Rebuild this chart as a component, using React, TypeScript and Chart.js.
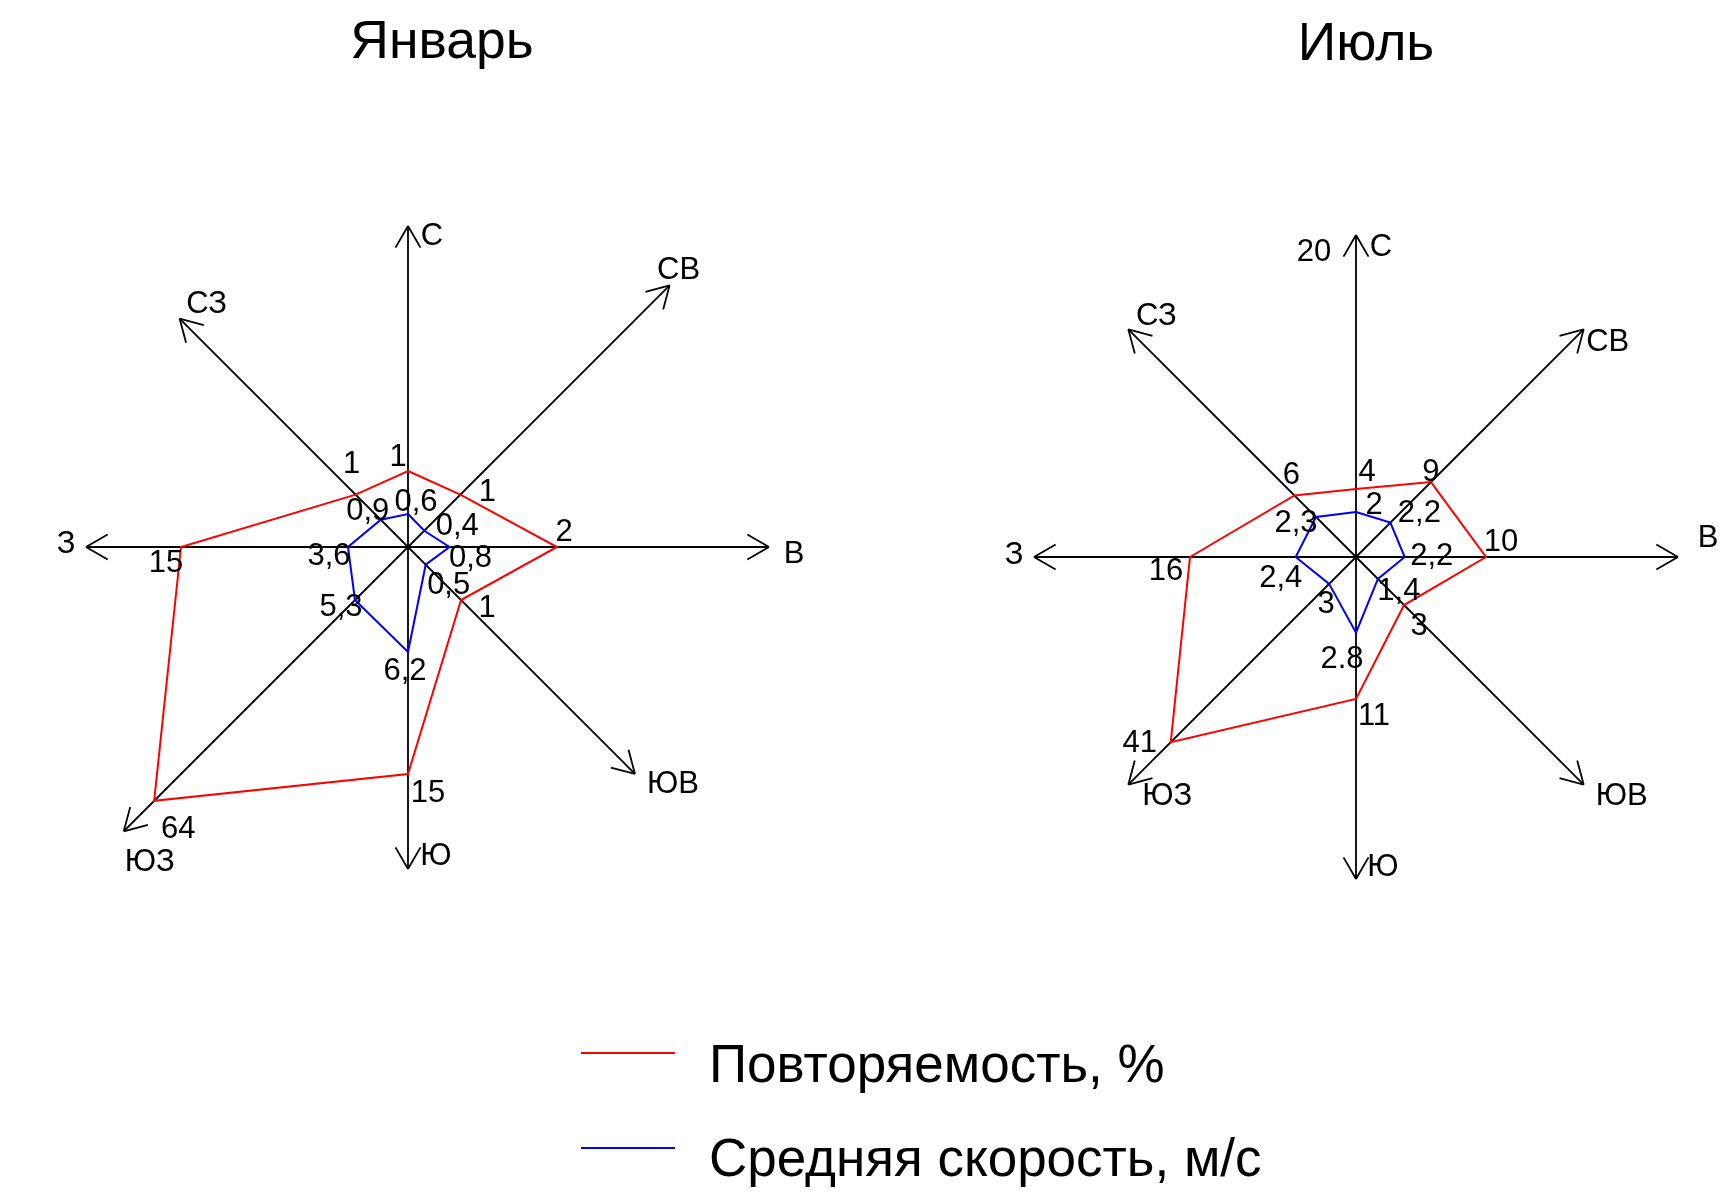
import React, { useEffect, useRef } from 'react';
import { Chart, registerables } from 'chart.js';

Chart.register(...registerables);

// ---------- data ----------
const directions = ['С', 'СВ', 'В', 'ЮВ', 'Ю', 'ЮЗ', 'З', 'СЗ'];

// January: printed values and the radial position each vertex has in the original drawing
// (the original rose is not drawn to scale, so positions are read from the picture)
const janFreqLabels = ['1', '1', '2', '1', '15', '64', '15', '1'];
const janFreqDrawn = [76, 74, 149, 75, 227, 359, 227, 74];
const janSpeedLabels = ['0,6', '0,4', '0,8', '0,5', '6,2', '5,3', '3,6', '0,9'];
const janSpeedDrawn = [33, 23, 41.5, 25, 105, 75, 60, 38.5];
const janAxisLength = [321, 370, 361, 321, 322, 402, 322, 323];

// July
const julFreqLabels = ['4', '9', '10', '3', '11', '41', '16', '6'];
const julFreqDrawn = [68, 106, 130, 68, 142, 262, 166, 87];
const julSpeedLabels = ['2', '2,2', '2,2', '1,4', '2.8', '3', '2,4', '2,3'];
const julSpeedDrawn = [45, 48.6, 48.7, 31, 75.7, 38, 60.3, 56.6];
const julAxisLength = [322, 322, 322, 322, 322, 322, 322, 322];
const julAxisExtraLabel = '20';

const seriesNames = ['Повторяемость, %', 'Средняя скорость, м/с'];
const titles = ['Январь', 'Июль'];

// ---------- layout / styles ----------
const FONT = '"Liberation Sans", Arial, Helvetica, sans-serif';
const RED = '#ff0000';
const BLUE = '#0000ff';

type Off = [number, number];

interface RoseSpec {
  id: string;
  width: number;
  height: number;
  left: number;
  rMax: number;
  freqDrawn: number[];
  freqLabels: string[];
  speedDrawn: number[];
  speedLabels: string[];
  axisLength: number[];
  freqOff: Off[];
  speedOff: Off[];
  dirOff: Off[];
  extra?: { text: string; off: Off };
}

const janSpec: RoseSpec = {
  id: 'jan',
  width: 800,
  height: 1094,
  left: 8,
  rMax: 400,
  freqDrawn: janFreqDrawn,
  freqLabels: janFreqLabels,
  speedDrawn: janSpeedDrawn,
  speedLabels: janSpeedLabels,
  axisLength: janAxisLength,
  freqOff: [[-10, -14], [27, -2], [7, -15], [26, 8], [20, 19], [24, 29], [-15, 16], [-4, -30]],
  speedOff: [[8, -12], [33, -4], [21, 11], [23, 21], [-3, 19], [-14, 7], [-19, 9], [-13, -8]],
  dirOff: [[24, 10], [9, -15], [25, 7], [38, 10], [28, -13], [26, 31], [-20, -3], [27, -14]],
};

const julSpec: RoseSpec = {
  id: 'jul',
  width: 748,
  height: 1114,
  left: 982,
  rMax: 374,
  freqDrawn: julFreqDrawn,
  freqLabels: julFreqLabels,
  speedDrawn: julSpeedDrawn,
  speedLabels: julSpeedLabels,
  axisLength: julAxisLength,
  freqOff: [[11, -17], [0, -10], [15, -15], [15, 21], [18, 17], [-31, 1], [-24, 14], [-3, -20]],
  speedOff: [[18, -7], [29, -9], [27, -1], [21, 13], [-14, 27], [-3, 21], [-15, 21], [-20, 6]],
  dirOff: [[25, 12], [24, 13], [30, -19], [38, 12], [27, -12], [39, 12], [-20, -2], [28, -13]],
  extra: { text: julAxisExtraLabel, off: [-42, 17] },
};

function rosePlugin(spec: RoseSpec) {
  return {
    id: 'rose_' + spec.id,
    beforeDatasetsDraw(chart: any) {
      const scale = chart.scales.r;
      const ctx = chart.ctx as CanvasRenderingContext2D;
      const cx = scale.xCenter;
      const cy = scale.yCenter;
      ctx.save();
      ctx.strokeStyle = '#000';
      ctx.lineWidth = 1.8;
      spec.axisLength.forEach((len, i) => {
        const tip = scale.getPointPosition(i, scale.getDistanceFromCenterForValue(len));
        ctx.beginPath();
        ctx.moveTo(cx, cy);
        ctx.lineTo(tip.x, tip.y);
        ctx.stroke();
        const ang = Math.atan2(tip.y - cy, tip.x - cx);
        ctx.beginPath();
        for (const s of [-1, 1]) {
          const a = ang + Math.PI + (s * Math.PI) / 6;
          ctx.moveTo(tip.x, tip.y);
          ctx.lineTo(tip.x + 25 * Math.cos(a), tip.y + 25 * Math.sin(a));
        }
        ctx.stroke();
      });
      ctx.restore();
    },
    afterDatasetsDraw(chart: any) {
      const scale = chart.scales.r;
      const ctx = chart.ctx as CanvasRenderingContext2D;
      ctx.save();
      ctx.fillStyle = '#000';
      ctx.font = `31px ${FONT}`;
      ctx.textAlign = 'center';
      ctx.textBaseline = 'middle';
      const freqMeta = chart.getDatasetMeta(0);
      const speedMeta = chart.getDatasetMeta(1);
      spec.freqLabels.forEach((t, i) => {
        const p = freqMeta.data[i];
        ctx.fillText(t, p.x + spec.freqOff[i][0], p.y + spec.freqOff[i][1]);
      });
      spec.speedLabels.forEach((t, i) => {
        const p = speedMeta.data[i];
        ctx.fillText(t, p.x + spec.speedOff[i][0], p.y + spec.speedOff[i][1]);
      });
      directions.forEach((d, i) => {
        const tip = scale.getPointPosition(i, scale.getDistanceFromCenterForValue(spec.axisLength[i]));
        ctx.fillText(d, tip.x + spec.dirOff[i][0], tip.y + spec.dirOff[i][1]);
      });
      if (spec.extra) {
        const tip = scale.getPointPosition(0, scale.getDistanceFromCenterForValue(spec.axisLength[0]));
        ctx.fillText(spec.extra.text, tip.x + spec.extra.off[0], tip.y + spec.extra.off[1]);
      }
      ctx.restore();
    },
  };
}

function Rose({ spec }: { spec: RoseSpec }) {
  const ref = useRef<HTMLCanvasElement | null>(null);
  useEffect(() => {
    if (!ref.current) return;
    const chart = new Chart(ref.current, {
      type: 'radar',
      data: {
        labels: directions,
        datasets: [
          {
            label: seriesNames[0],
            data: spec.freqDrawn,
            borderColor: RED,
            backgroundColor: 'transparent',
            borderWidth: 2,
            pointRadius: 0,
            pointHoverRadius: 0,
            fill: false,
            tension: 0,
          },
          {
            label: seriesNames[1],
            data: spec.speedDrawn,
            borderColor: BLUE,
            backgroundColor: 'transparent',
            borderWidth: 2,
            pointRadius: 0,
            pointHoverRadius: 0,
            fill: false,
            tension: 0,
          },
        ],
      },
      options: {
        responsive: false,
        animation: false,
        events: [],
        layout: { padding: 0 },
        plugins: {
          legend: { display: false },
          tooltip: { enabled: false },
          title: { display: false },
        },
        scales: {
          r: {
            min: 0,
            max: spec.rMax,
            grid: { display: false },
            angleLines: { display: false },
            ticks: { display: false },
            pointLabels: { display: false },
          },
        },
      },
      plugins: [rosePlugin(spec)],
    } as any);
    return () => chart.destroy();
  }, [spec]);
  return (
    <canvas
      ref={ref}
      width={spec.width}
      height={spec.height}
      style={{ position: 'absolute', left: spec.left, top: 0, width: spec.width, height: spec.height }}
    />
  );
}

const textBase: React.CSSProperties = {
  position: 'absolute',
  fontFamily: FONT,
  color: '#000',
  whiteSpace: 'nowrap',
};

export default function App() {
  return (
    <div
      style={{
        position: 'absolute',
        left: 0,
        top: 0,
        width: 1730,
        height: 1195,
        overflow: 'hidden',
        background: '#fff',
      }}
    >
      <Rose spec={janSpec} />
      <Rose spec={julSpec} />
      <div style={{ ...textBase, left: 242, width: 400, top: 13, fontSize: 53.5, lineHeight: '53.5px', textAlign: 'center' }}>
        {titles[0]}
      </div>
      <div style={{ ...textBase, left: 1166, width: 400, top: 15, fontSize: 53.5, lineHeight: '53.5px', textAlign: 'center' }}>
        {titles[1]}
      </div>
      <div style={{ position: 'absolute', left: 581, top: 1052, width: 94, height: 0, borderTop: `2px solid ${RED}` }} />
      <div style={{ ...textBase, left: 709, top: 1037, fontSize: 53, lineHeight: '53px' }}>{seriesNames[0]}</div>
      <div style={{ position: 'absolute', left: 581, top: 1147, width: 94, height: 0, borderTop: `2px solid ${BLUE}` }} />
      <div style={{ ...textBase, left: 709, top: 1131, fontSize: 53, lineHeight: '53px' }}>{seriesNames[1]}</div>
    </div>
  );
}
